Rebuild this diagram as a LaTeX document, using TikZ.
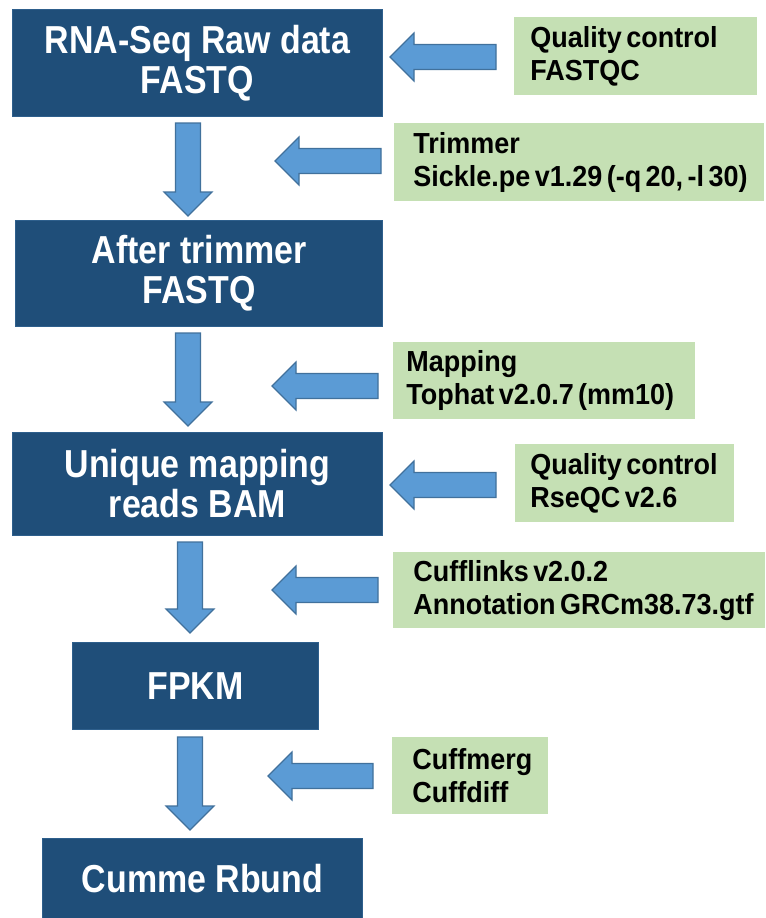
\documentclass[tikz,border=0pt]{standalone}
\usepackage{fontspec}
\setmainfont{Liberation Sans}
\newfontfamily\bluefont{Liberation Sans}[FakeStretch=0.87]
\newfontfamily\greenfont{Liberation Sans}[WordSpace=0.6,FakeStretch=0.93]
\usetikzlibrary{calc}
\definecolor{boxblue}{HTML}{1F4E79}
\definecolor{boxedge}{HTML}{2E5F8C}
\definecolor{arrowblue}{HTML}{5B9BD5}
\definecolor{arrowedge}{HTML}{41719C}
\definecolor{boxgreen}{HTML}{C5E0B4}
\tikzset{
  bluebox/.style={fill=boxblue, draw=boxedge, line width=0.5pt, anchor=north west,
    text=white, align=center, inner sep=0pt,
    font=\bluefont\bfseries\fontsize{19.5}{20}\selectfont},
  greenbox/.style={fill=boxgreen, draw=none, anchor=north west, inner sep=0pt},
  greentext/.style={anchor=west, align=left, inner sep=0pt, text=black,
    font=\greenfont\bfseries\fontsize{14.5}{16.5}\selectfont},
  blk/.style={fill=arrowblue, draw=arrowedge, line width=0.6pt, line join=miter}
}
\newcommand{\blkdown}[2]{\draw[blk] ($(#1)+(-12.5,0)$) -- ($(#2)+(-12.5,-24)$) -- ($(#2)+(-24,-24)$) -- (#2) -- ($(#2)+(24,-24)$) -- ($(#2)+(12.5,-24)$) -- ($(#1)+(12.5,0)$) -- cycle;}
\newcommand{\blkleft}[2]{\draw[blk] ($(#1)+(0,-12.5)$) -- ($(#2)+(24,-12.5)$) -- ($(#2)+(24,-24)$) -- (#2) -- ($(#2)+(24,24)$) -- ($(#2)+(24,12.5)$) -- ($(#1)+(0,12.5)$) -- cycle;}
\begin{document}
\begin{tikzpicture}[x=0.5pt, y=-0.5pt]
\useasboundingbox[fill=white] (0,0) rectangle (766,918);

% blue boxes
\node[bluebox, minimum width=185pt, minimum height=53.5pt] (b1) at (12,9) {RNA-Seq Raw data\\FASTQ};
\node[bluebox, minimum width=183.5pt, minimum height=53pt] (b2) at (15,220) {After trimmer\\FASTQ};
\node[bluebox, minimum width=185pt, minimum height=51.5pt] (b3) at (12,432) {Unique mapping\\reads BAM};
\node[bluebox, minimum width=123pt, minimum height=43.5pt] (b4) at (72,642) {FPKM};
\node[bluebox, minimum width=160pt, minimum height=40pt] (b5) at (42,838) {Cumme Rbund};

% green boxes
\node[greenbox, minimum width=121.5pt, minimum height=39pt] (g1) at (514,17) {};
\node[greentext] (t1) at ([xshift=8pt]g1.west) {Quality control\\FASTQC};
\node[greenbox, minimum width=185pt, minimum height=39pt] (g2) at (394,123) {};
\node[greentext] (t2) at ([xshift=9.5pt]g2.west) {Trimmer\\Sickle.pe v1.29 (-q 20, -l 30)};
\node[greenbox, minimum width=151pt, minimum height=38.5pt] (g3) at (393,342) {};
\node[greentext] (t3) at ([xshift=6.5pt]g3.west) {Mapping\\Tophat v2.0.7 (mm10)};
\node[greenbox, minimum width=109.5pt, minimum height=39pt] (g4) at (515,444) {};
\node[greentext] (t4) at ([xshift=7.5pt]g4.west) {Quality control\\RseQC v2.6};
\node[greenbox, minimum width=186pt, minimum height=38pt] (g5) at (393,552) {};
\node[greentext] (t5) at ([xshift=10pt]g5.west) {Cufflinks v2.0.2\\Annotation GRCm38.73.gtf};
\node[greenbox, minimum width=78pt, minimum height=38.5pt] (g6) at (392,737) {};
\node[greentext] (t6) at ([xshift=10pt]g6.west) {Cuffmerg\\Cuffdiff};

% arrow end points
\coordinate (d1s) at (188,123); \coordinate (d1e) at (188,216);
\coordinate (d2s) at (188,333); \coordinate (d2e) at (188,426);
\coordinate (d3s) at (190,542); \coordinate (d3e) at (190,633);
\coordinate (d4s) at (190,737); \coordinate (d4e) at (190,830);
\coordinate (l1s) at (496,57);  \coordinate (l1e) at (390,57);
\coordinate (l2s) at (381,161); \coordinate (l2e) at (275,161);
\coordinate (l3s) at (378,386); \coordinate (l3e) at (272,386);
\coordinate (l4s) at (496,485); \coordinate (l4e) at (390,485);
\coordinate (l5s) at (378,590); \coordinate (l5e) at (272,590);
\coordinate (l6s) at (373,776); \coordinate (l6e) at (268,776);

\blkdown{d1s}{d1e}
\blkdown{d2s}{d2e}
\blkdown{d3s}{d3e}
\blkdown{d4s}{d4e}
\blkleft{l1s}{l1e}
\blkleft{l2s}{l2e}
\blkleft{l3s}{l3e}
\blkleft{l4s}{l4e}
\blkleft{l5s}{l5e}
\blkleft{l6s}{l6e}
\end{tikzpicture}
\end{document}
